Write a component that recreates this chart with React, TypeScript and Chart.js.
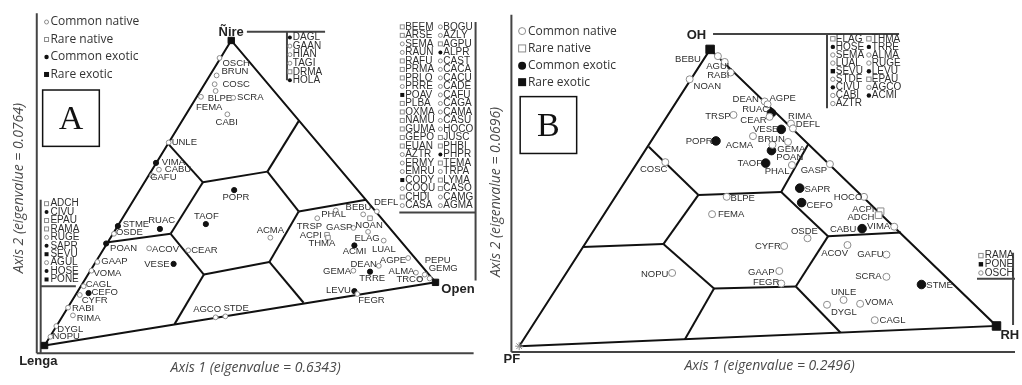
import React, { useEffect, useRef } from 'react';
import { Chart, registerables } from 'chart.js';
Chart.register(...registerables);

// ---------- Legend ----------
const legendNames = ['Common native', 'Rare native', 'Common exotic', 'Rare exotic'];
const legendTypes = ['cn', 'rn', 'ce', 're'];

// ---------- Panel A (Ñire / Lenga / Open) ----------
const speciesA = ['OSCH','BRUN','COSC','FEMA','BLPE','SCRA','CABI','UNLE','VIMA','CABU','GAFU','POPR','TAOF','RUAC','STME','OSDE','POAN','ACOV','CEAR','VESE','GAAP','VOMA','CAGL','CEFO','CYFR','RABI','RIMA','DYGL','NOPU','ACMA','AGCO','STDE','DEFL','BEBU','PHAL','TRSP','GASP','NOAN','ACPI','THMA','ELAG','LUAL','ACMI','AGPE','DEAN','GEMA','TRRE','ALMA','TRCO','PEPU','GEMG','LEVU','FEGR'];
const typesA = ['cn','cn','cn','cn','cn','cn','cn','cn','ce','cn','cn','ce','ce','ce','ce','cn','ce','cn','cn','ce','cn','cn','cn','ce','cn','cn','cn','cn','cn','cn','cn','cn','cn','cn','cn','cn','cn','cn','rn','rn','rn','cn','ce','cn','cn','cn','ce','cn','cn','cn','cn','ce','cn'];
const axis1A = [219,216,214,215,200,233,227,167,154,157,150,234,205,158,115,111,103,147,187,172,94,88,80,85,76,64,69,52,46,271,215,225,380,366,319,338,356,371,329,330,373,387,357,412,382,356,373,420,424,429,434,357,360];
const axis2A = [54,72,81,88,94,95,112,141,162,169,175,190,225,230,227,235,245,250,252,266,264,273,289,296,298,311,319,330,341,239,321,320,212,215,219,211,229,233,236,239,219,242,247,260,268,273,274,275,282,277,281,294,297];
const labelXA = [222,221,222,195,207,237,215,170,160,163,148,222,193,146,120,113,107,150,190,142,98,90,82,88,78,68,73,53,48,257,192,223,377,348,323,298,328,358,301,310,357,375,345,383,353,325,362,392,400,429,433,328,361];
const labelYA = [60,68,81,105,96,95,120,141,162,169,177,198,217,221,225,234,250,251,252,266,263,276,287,295,304,312,322,333,341,231,313,312,203,208,215,227,228,226,237,245,240,251,253,262,266,274,281,274,282,262,271,293,304];

const triA = { x: [40, 231, 440], y: [350, 36, 285] }; // Lenga, Ñire, Open
const regionsA = [
  [167,143,202,182],[202,182,268,171],[268,171,300,119],[268,171,300,212],
  [300,212,369,200],[300,212,270,264],[270,264,305,306],[270,264,203,277],
  [203,277,173,328],[203,277,169,235],[169,235,202,182],[169,235,103,244],
];
const frameA = [
  [32,8,32,358],[32,358,479,358],[36,200,36,358],[36,289,72,289],
  [481,17,481,283],[403,213,481,213],[247,27,327,27],[288,27,288,77],
];

const listA1 = ['DAGL','GAAN','HIAN','TAGI','DRMA','HOLA'];
const listA1Types = ['ce','cn','cn','cn','rn','ce'];
const listA2a = ['BEEM','ARSE','SEMA','RAUN','RAFU','PRMA','PRLO','PRRE','POAV','PLBA','OXMA','NAMU','GUMA','GEPO','EUAN','AZTR','ERMY','EMRU','CODY','COQU','CHDI','CASA'];
const listA2aTypes = ['rn','rn','cn','cn','rn','rn','rn','cn','re','rn','rn','rn','rn','rn','rn','cn','cn','cn','re','cn','rn','cn'];
const listA2b = ['BOGU','AZLY','AGPU','ALPR','CAST','CACA','CACU','CADE','CAFU','CAGA','CAMA','CASU','HOCO','JUSC','PHBI','PHPR','TEMA','TRPA','LYMA','CASO','CAMG','AGMA'];
const listA2bTypes = ['cn','cn','rn','ce','cn','cn','cn','cn','cn','cn','cn','cn','cn','rn','rn','ce','rn','cn','rn','rn','cn','cn'];
const listA3 = ['ADCH','CIVU','EPAU','RAMA','RUGE','SAPR','SEVU','AGUL','HOSE','PONE'];
const listA3Types = ['rn','ce','rn','rn','cn','ce','re','cn','ce','re'];

// ---------- Panel B (OH / PF / RH) ----------
const speciesB = ['BEBU','AGUL','RABI','NOAN','TRSP','POPR','ACMA','COSC','DEAN','AGPE','RUAC','CEAR','RIMA','DEFL','VESE','BRUN','GEMA','POAN','TAOF','PHAL','GASP','SAPR','BLPE','FEMA','CEFO','HOCO','ACPI','ADCH','CABU','VIMA','OSDE','CYFR','ACOV','GAFU','GAAP','FEGR','NOPU','SCRA','STME','UNLE','VOMA','DYGL','CAGL'];
const typesB = ['cn','cn','cn','cn','cn','ce','cn','cn','cn','cn','ce','cn','cn','cn','ce','cn','cn','ce','ce','cn','cn','ce','cn','cn','ce','cn','rn','rn','cn','ce','cn','cn','cn','cn','cn','cn','cn','cn','ce','cn','cn','cn','cn'];
const axis1B = [717,724,730,688,733,715,753,663,765,768,772,770,792,794,782,789,773,772,766,793,832,801,726,711,803,867,884,882,898,865,809,785,850,890,780,782,670,890,926,846,863,829,878];
const axis2B = [51,57,68,75,112,139,134,161,98,101,110,114,121,126,127,140,143,149,162,164,163,188,197,215,203,197,212,216,228,230,240,248,247,257,274,287,276,280,288,304,308,309,325];
const labelXB = [673,705,706,692,704,684,725,637,732,770,742,740,789,797,753,758,778,777,737,765,802,806,730,717,808,836,855,850,832,870,792,755,823,860,748,753,638,858,931,833,868,833,883];
const labelYB = [54,62,71,82,113,139,144,169,96,95,106,118,113,122,127,137,148,156,162,171,170,189,199,215,206,198,210,218,231,228,233,248,256,257,275,286,277,280,289,296,307,317,325];

const triB = { x: [513, 709, 1003], y: [352, 44, 331] }; // PF, OH, RH
const regionsB = [
  [646,145,697,195],[697,195,782,192],[782,192,810,142],[697,195,661,246],
  [661,246,578,249],[661,246,713,292],[713,292,683,345],[713,292,797,290],
  [797,290,830,238],[830,238,782,192],[830,238,905,234],[797,290,843,338],
];
const frameB = [
  [505,8,505,358],[505,358,1022,358],[712,28,903,28],[829,28,829,105],
  [983,282,1022,282],[1020,255,1020,330],
];
const listB1a = ['ELAG','HOSE','SEMA','LUAL','SEVU','STDE','CIVU','CABI','AZTR'];
const listB1aTypes = ['rn','ce','cn','cn','re','cn','ce','cn','cn'];
const listB1b = ['THMA','TRRE','ALMA','RUGE','LEVU','EPAU','AGCO','ACMI'];
const listB1bTypes = ['rn','ce','cn','cn','ce','rn','cn','ce'];
const listB2 = ['RAMA','PONE','OSCH'];
const listB2Types = ['rn','re','cn'];

// ---------- helpers ----------
const LABEL_FONT = "9.5px 'Liberation Sans', Arial, sans-serif";
const LIST_FONT = "10px 'Liberation Sans', Arial, sans-serif";
const LEGEND_FONT = "12px 'Open Sans', sans-serif";
const TITLE_FONT = "italic 14px 'Open Sans', sans-serif";
const VERTEX_FONT = "bold 13px 'Liberation Sans', Arial, sans-serif";
const GREY = '#8c8c8c';
const TEXT = '#2e2e2e';

function drawMark(ctx: CanvasRenderingContext2D, t: string, x: number, y: number, s: number) {
  ctx.save();
  ctx.lineWidth = 1;
  if (t === 'cn') {
    ctx.beginPath(); ctx.arc(x, y, s, 0, Math.PI * 2);
    ctx.fillStyle = '#fff'; ctx.fill(); ctx.strokeStyle = GREY; ctx.stroke();
  } else if (t === 'rn') {
    ctx.fillStyle = '#fff'; ctx.fillRect(x - s, y - s, 2 * s, 2 * s);
    ctx.strokeStyle = GREY; ctx.strokeRect(x - s, y - s, 2 * s, 2 * s);
  } else if (t === 'ce') {
    ctx.beginPath(); ctx.arc(x, y, s, 0, Math.PI * 2); ctx.fillStyle = '#111'; ctx.fill();
  } else {
    ctx.fillStyle = '#111'; ctx.fillRect(x - s, y - s, 2 * s, 2 * s);
  }
  ctx.restore();
}

function segmentSets(segs: number[][], color: string, width: number) {
  return segs.map((s) => ({
    type: 'scatter' as const,
    data: [{ x: s[0], y: s[1] }, { x: s[2], y: s[3] }],
    showLine: true, borderColor: color, borderWidth: width, pointRadius: 0, order: 2, fill: false,
  }));
}

function triangleSet(tri: { x: number[]; y: number[] }) {
  const pts = [0, 1, 2, 0].map((i) => ({ x: tri.x[i], y: tri.y[i] }));
  return { type: 'scatter' as const, data: pts, showLine: true, borderColor: '#111', borderWidth: 2, pointRadius: 0, order: 2, fill: false };
}

function markerSets(types: string[], xs: number[], ys: number[], rc: number, rf: number) {
  const st: any = {
    cn: { pointStyle: 'circle', bg: '#fff', bd: GREY, r: rc },
    rn: { pointStyle: 'rect', bg: '#fff', bd: GREY, r: rc * 1.35 },
    ce: { pointStyle: 'circle', bg: '#111', bd: '#111', r: rf },
    re: { pointStyle: 'rect', bg: '#111', bd: '#111', r: rf * 1.35 },
  };
  return ['cn', 'rn', 'ce', 're'].map((t) => ({
    type: 'scatter' as const,
    data: xs.map((x, i) => ({ x, y: ys[i], t: types[i] })).filter((p) => p.t === t).map((p) => ({ x: p.x, y: p.y })),
    pointStyle: st[t].pointStyle, pointRadius: st[t].r, pointBackgroundColor: st[t].bg,
    pointBorderColor: st[t].bd, pointBorderWidth: 1, showLine: false, order: 0,
  }));
}

function drawList(ctx: CanvasRenderingContext2D, X: (v: number) => number, Y: (v: number) => number,
  names: string[], types: string[], mx: number, tx: number, y0: number, dy: number, s: number) {
  ctx.save();
  ctx.font = LIST_FONT; ctx.fillStyle = TEXT; ctx.textBaseline = 'middle'; ctx.textAlign = 'left';
  names.forEach((n, i) => {
    const y = y0 + i * dy;
    drawMark(ctx, types[i], X(mx), Y(y), s);
    ctx.fillText(n, X(tx), Y(y));
  });
  ctx.restore();
}

function drawLegend(ctx: CanvasRenderingContext2D, X: (v: number) => number, Y: (v: number) => number,
  mx: number, tx: number, ys: number[], sizes: number[]) {
  ctx.save();
  ctx.font = LEGEND_FONT; ctx.fillStyle = '#333'; ctx.textBaseline = 'middle'; ctx.textAlign = 'left';
  legendNames.forEach((n, i) => {
    drawMark(ctx, legendTypes[i], X(mx), Y(ys[i]), sizes[i]);
    ctx.fillText(n, X(tx), Y(ys[i]));
  });
  ctx.restore();
}

function drawRotated(ctx: CanvasRenderingContext2D, text: string, x: number, y: number) {
  ctx.save();
  ctx.translate(x, y); ctx.rotate(-Math.PI / 2);
  ctx.font = TITLE_FONT; ctx.fillStyle = '#4a4a4a'; ctx.textAlign = 'center'; ctx.textBaseline = 'middle';
  ctx.fillText(text, 0, 0);
  ctx.restore();
}

function drawPanelBox(ctx: CanvasRenderingContext2D, x0: number, y0: number, x1: number, y1: number, letter: string) {
  ctx.save();
  ctx.strokeStyle = '#111'; ctx.lineWidth = 1.5;
  ctx.strokeRect(x0, y0, x1 - x0, y1 - y0);
  ctx.font = "34px 'Liberation Serif', 'Times New Roman', serif"; ctx.fillStyle = '#111';
  ctx.textAlign = 'center'; ctx.textBaseline = 'middle';
  ctx.fillText(letter, (x0 + x1) / 2, (y0 + y1) / 2 + 2);
  ctx.restore();
}

const decorA = {
  id: 'decorA',
  afterDatasetsDraw(chart: any) {
    const ctx: CanvasRenderingContext2D = chart.ctx;
    const X = (v: number) => chart.scales.x.getPixelForValue(v);
    const Y = (v: number) => chart.scales.y.getPixelForValue(v);
    ctx.save();
    ctx.font = LABEL_FONT; ctx.fillStyle = TEXT; ctx.textBaseline = 'middle'; ctx.textAlign = 'left';
    speciesA.forEach((n, i) => ctx.fillText(n, X(labelXA[i]), Y(labelYA[i])));
    ctx.font = VERTEX_FONT; ctx.fillStyle = '#222';
    ctx.fillText('Ñire', X(218), Y(28));
    ctx.fillText('Lenga', X(14), Y(366));
    ctx.fillText('Open', X(446), Y(292));
    ctx.restore();
    drawLegend(ctx, X, Y, 42, 46, [17, 35, 53, 71], [2, 2, 2.2, 2.5]);
    drawPanelBox(ctx, X(38), Y(87), X(96), Y(145), 'A');
    drawList(ctx, X, Y, listA1, listA1Types, 291, 294, 33, 8.8, 2);
    drawList(ctx, X, Y, listA2a, listA2aTypes, 406, 409, 22, 8.76, 2);
    drawList(ctx, X, Y, listA2b, listA2bTypes, 445, 448, 22, 8.76, 2);
    drawList(ctx, X, Y, listA3, listA3Types, 42, 46, 204, 8.67, 2);
    drawRotated(ctx, 'Axis 2 (eigenvalue = 0.0764)', X(14), Y(188));
    ctx.save();
    ctx.font = TITLE_FONT; ctx.fillStyle = '#4a4a4a'; ctx.textAlign = 'center'; ctx.textBaseline = 'middle';
    ctx.fillText('Axis 1 (eigenvalue = 0.6343)', X(256), Y(373));
    ctx.restore();
  },
};

const decorB = {
  id: 'decorB',
  afterDatasetsDraw(chart: any) {
    const ctx: CanvasRenderingContext2D = chart.ctx;
    const X = (v: number) => chart.scales.x.getPixelForValue(v);
    const Y = (v: number) => chart.scales.y.getPixelForValue(v);
    ctx.save();
    ctx.font = LABEL_FONT; ctx.fillStyle = TEXT; ctx.textBaseline = 'middle'; ctx.textAlign = 'left';
    speciesB.forEach((n, i) => ctx.fillText(n, X(labelXB[i]), Y(labelYB[i])));
    ctx.font = VERTEX_FONT; ctx.fillStyle = '#222';
    ctx.fillText('OH', X(685), Y(29));
    ctx.fillText('PF', X(497), Y(366));
    ctx.fillText('RH', X(1007), Y(341));
    ctx.restore();
    drawLegend(ctx, X, Y, 516, 522, [25, 43, 61, 78], [3.5, 3.5, 4, 4]);
    drawPanelBox(ctx, X(514), Y(93), X(572), Y(152), 'B');
    drawList(ctx, X, Y, listB1a, listB1aTypes, 835, 838, 33, 8.4, 2.2);
    drawList(ctx, X, Y, listB1b, listB1bTypes, 872, 875, 33, 8.4, 2.2);
    drawList(ctx, X, Y, listB2, listB2Types, 987, 991, 258, 9, 2.2);
    drawRotated(ctx, 'Axis 2 (eigenvalue = 0.0696)', X(489), Y(192));
    ctx.save();
    ctx.font = TITLE_FONT; ctx.fillStyle = '#4a4a4a'; ctx.textAlign = 'center'; ctx.textBaseline = 'middle';
    ctx.fillText('Axis 1 (eigenvalue = 0.2496)', X(770), Y(373));
    ctx.restore();
  },
};

function baseOptions(xmin: number, xmax: number) {
  return {
    animation: false as const,
    responsive: false,
    events: [] as any[],
    layout: { padding: 0 },
    plugins: { legend: { display: false }, tooltip: { enabled: false } },
    scales: {
      x: { type: 'linear' as const, display: false, min: xmin, max: xmax },
      y: { type: 'linear' as const, display: false, min: 0, max: 385, reverse: true },
    },
  };
}

export default function App() {
  const refA = useRef<HTMLCanvasElement>(null);
  const refB = useRef<HTMLCanvasElement>(null);

  useEffect(() => {
    const chartA = new Chart(refA.current as HTMLCanvasElement, {
      type: 'scatter',
      data: {
        datasets: [
          ...markerSets(typesA, axis1A, axis2A, 2.4, 2.6),
          { type: 'scatter', data: [{ x: triA.x[1], y: triA.y[1] }, { x: triA.x[2], y: triA.y[2] }, { x: triA.x[0], y: triA.y[0] }],
            pointStyle: 'rect', pointRadius: 4.5, pointBackgroundColor: '#111', pointBorderColor: '#111', showLine: false, order: 0 } as any,
          triangleSet(triA),
          ...segmentSets(regionsA, '#111', 2),
          ...segmentSets(frameA, '#444', 2),
        ] as any,
      },
      options: baseOptions(0, 484) as any,
      plugins: [decorA],
    });
    const chartB = new Chart(refB.current as HTMLCanvasElement, {
      type: 'scatter',
      data: {
        datasets: [
          ...markerSets(typesB, axis1B, axis2B, 3.5, 4.3),
          { type: 'scatter', data: [{ x: triB.x[1], y: triB.y[1] }, { x: triB.x[2], y: triB.y[2] }],
            pointStyle: 'rect', pointRadius: 6, pointBackgroundColor: '#111', pointBorderColor: '#111', showLine: false, order: 0 } as any,
          { type: 'scatter', data: [{ x: triB.x[0], y: triB.y[0] }],
            pointStyle: 'star', pointRadius: 4, pointBackgroundColor: '#fff', pointBorderColor: GREY, showLine: false, order: 0 } as any,
          triangleSet(triB),
          ...segmentSets(regionsB, '#111', 2),
          ...segmentSets(frameB, '#444', 2),
        ] as any,
      },
      options: baseOptions(482, 1022) as any,
      plugins: [decorB],
    });
    return () => { chartA.destroy(); chartB.destroy(); };
  }, []);

  return (
    <div style={{ position: 'absolute', left: 0, top: 0, width: 1022, height: 385, background: '#fff' }}>
      <canvas ref={refA} width={484} height={385} style={{ position: 'absolute', left: 0, top: 0, width: 484, height: 385 }} />
      <canvas ref={refB} width={540} height={385} style={{ position: 'absolute', left: 482, top: 0, width: 540, height: 385 }} />
    </div>
  );
}
